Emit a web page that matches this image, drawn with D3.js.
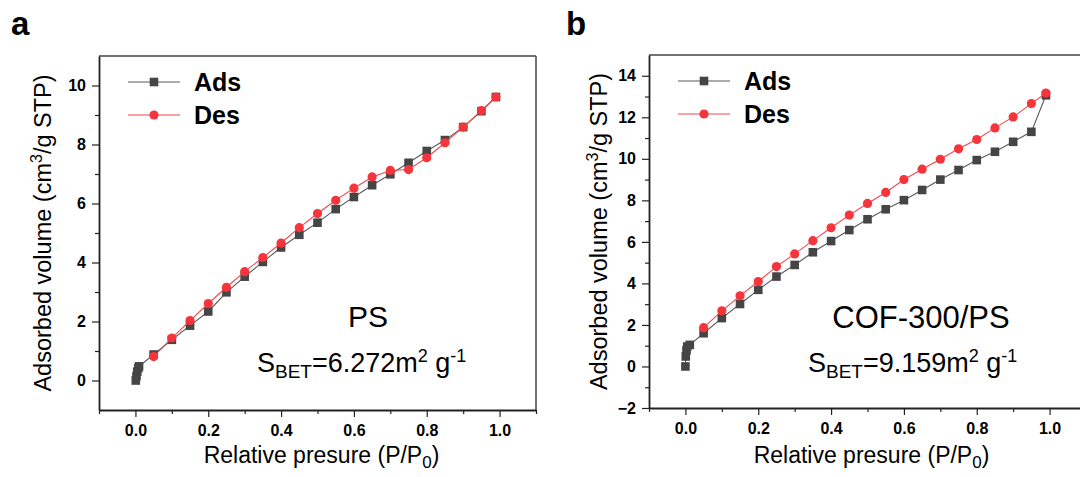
<!DOCTYPE html>
<html><head><meta charset="utf-8">
<script src="https://cdn.jsdelivr.net/npm/d3@7"></script>
<style>body{margin:0;background:#fff}svg{display:block;font-family:"Liberation Sans",Arial,sans-serif}</style>
</head><body><svg id="c" width="1080" height="477"></svg>
<script>
// ---- data ----
const adsPressureA = [0.001,0.003,0.005,0.008,0.01,0.05,0.1,0.15,0.2,0.25,0.3,0.35,0.4,0.45,0.5,0.55,0.6,0.65,0.7,0.75,0.8,0.85,0.9,0.95,0.99];
const adsVolumeA   = [0.0,0.15,0.3,0.42,0.48,0.88,1.38,1.86,2.34,2.99,3.52,4.02,4.51,4.94,5.35,5.81,6.22,6.62,6.99,7.38,7.78,8.15,8.59,9.13,9.61];
const desPressureA = [0.05,0.1,0.15,0.2,0.25,0.3,0.35,0.4,0.45,0.5,0.55,0.6,0.65,0.7,0.75,0.8,0.85,0.9,0.95,0.99];
const desVolumeA   = [0.81,1.44,2.03,2.61,3.16,3.69,4.17,4.66,5.18,5.66,6.11,6.52,6.9,7.12,7.15,7.55,8.06,8.59,9.15,9.61];

const adsPressureB = [0.0,0.001,0.003,0.005,0.012,0.05,0.1,0.15,0.2,0.25,0.3,0.35,0.4,0.45,0.5,0.55,0.6,0.65,0.7,0.75,0.8,0.85,0.9,0.95,0.99];
const adsVolumeB   = [0.0,0.48,0.78,0.96,1.04,1.6,2.33,3.01,3.69,4.33,4.89,5.5,6.04,6.57,7.09,7.57,8.01,8.5,9.0,9.46,9.94,10.34,10.82,11.3,13.06];
const desPressureB = [0.05,0.1,0.15,0.2,0.25,0.3,0.35,0.4,0.45,0.5,0.55,0.6,0.65,0.7,0.75,0.8,0.85,0.9,0.95,0.99];
const desVolumeB   = [1.87,2.68,3.4,4.09,4.81,5.42,6.06,6.68,7.29,7.85,8.38,9.0,9.5,9.98,10.48,10.93,11.49,12.02,12.66,13.17];

const xTickValues = [0.0,0.2,0.4,0.6,0.8,1.0];
const yTickValuesA = [0,2,4,6,8,10];
const yTickValuesB = [-2,0,2,4,6,8,10,12,14];
const seriesNames = ["Ads","Des"];
const panelLetters = ["a","b"];
const sampleNames = ["PS","COF-300/PS"];
const betValues = ["6.272","9.159"];

// ---- drawing ----
const svg = d3.select("#c");
const ADS_FILL = "#454545", ADS_LINE = "#5a5a5a", DES_FILL = "#f5343c", DES_LINE = "#f0474d";

function panel(o){
  const x = d3.scaleLinear().domain([-0.1,1.1]).range([o.left,o.right]);
  const y = d3.scaleLinear().domain(o.ydom).range([o.bottom,o.top]);
  const g = svg.append("g");

  // frame top/right
  g.append("line").attr("x1",o.left).attr("x2",o.right).attr("y1",o.top).attr("y2",o.top).attr("stroke","#444").attr("stroke-width",1.5);
  g.append("line").attr("x1",o.right).attr("x2",o.right).attr("y1",o.top).attr("y2",o.bottom).attr("stroke","#444").attr("stroke-width",1.5);

  // minor ticks
  const xMinor = d3.range(-0.1,1.15,0.1).map(v=>+v.toFixed(2)).filter(v=>!xTickValues.includes(v));
  const yMinor = d3.range(o.ydom[0],o.ydom[1]+0.01,1).filter(v=>!o.yticks.includes(v) && v>o.ydom[0] && v<o.ydom[1]);
  const xa = g.append("g").attr("transform",`translate(0,${o.bottom})`)
     .call(d3.axisBottom(x).tickValues(xMinor).tickSize(4).tickFormat(""));
  xa.selectAll("text").remove();
  const ya = g.append("g").attr("transform",`translate(${o.left},0)`)
     .call(d3.axisLeft(y).tickValues(yMinor).tickSize(4).tickFormat(""));
  [xa,ya].forEach(a=>{a.select(".domain").remove();a.selectAll("line").attr("stroke","#222").attr("stroke-width",1.2);});

  // major axes
  const xA = g.append("g").attr("transform",`translate(0,${o.bottom})`)
     .call(d3.axisBottom(x).tickValues(xTickValues).tickSize(7).tickSizeOuter(0).tickPadding(8).tickFormat(d3.format(".1f")));
  const yA = g.append("g").attr("transform",`translate(${o.left},0)`)
     .call(d3.axisLeft(y).tickValues(o.yticks).tickSize(7).tickSizeOuter(0).tickPadding(6).tickFormat(d3.format("d")));
  [xA,yA].forEach(a=>{
    a.select(".domain").attr("stroke","#222").attr("stroke-width",1.8);
    a.selectAll("line").attr("stroke","#222").attr("stroke-width",1.2);
    a.selectAll("text").attr("font-size",16).attr("font-weight","bold").attr("fill","#000").attr("font-family","Liberation Sans, Arial");
  });

  // series
  const line = d3.line().x(d=>x(d[0])).y(d=>y(d[1]));
  const ads = o.adsX.map((v,i)=>[v,o.adsY[i]]);
  const des = o.desX.map((v,i)=>[v,o.desY[i]]);
  g.append("path").datum(ads).attr("d",line).attr("fill","none").attr("stroke",ADS_LINE).attr("stroke-width",1.1);
  g.selectAll(null).data(ads).enter().append("rect")
    .attr("x",d=>x(d[0])-4.3).attr("y",d=>y(d[1])-4.3).attr("width",8.6).attr("height",8.6).attr("fill",ADS_FILL);
  g.append("path").datum(des).attr("d",line).attr("fill","none").attr("stroke",DES_LINE).attr("stroke-width",1.1);
  g.selectAll(null).data(des).enter().append("circle")
    .attr("cx",d=>x(d[0])).attr("cy",d=>y(d[1])).attr("r",4.6).attr("fill",DES_FILL);

  // legend
  const lx0 = o.left+29, lx1 = o.left+81, lm = o.left+55;
  [[o.top+26, "ads"],[o.top+59,"des"]].forEach(([ly,k],i)=>{
    g.append("line").attr("x1",lx0).attr("x2",lx1).attr("y1",ly).attr("y2",ly)
      .attr("stroke",k==="ads"?ADS_LINE:DES_LINE).attr("stroke-width",1.1);
    if(k==="ads") g.append("rect").attr("x",lm-4.3).attr("y",ly-4.3).attr("width",8.6).attr("height",8.6).attr("fill",ADS_FILL);
    else g.append("circle").attr("cx",lm).attr("cy",ly).attr("r",4.6).attr("fill",DES_FILL);
    g.append("text").attr("x",o.left+95).attr("y",ly+9).attr("font-size",25).attr("font-weight","bold").text(seriesNames[i]);
  });

  // annotations
  g.append("text").attr("x",o.nameX).attr("y",o.nameY).attr("text-anchor","middle").attr("font-size",o.nameSize).text(o.name);
  const t = g.append("text").attr("x",o.betX).attr("y",372).attr("font-size",27);
  t.append("tspan").text("S");
  t.append("tspan").attr("font-size",19).attr("dy",6).text("BET");
  t.append("tspan").attr("dy",-6).text("="+o.bet+"m");
  t.append("tspan").attr("font-size",18).attr("dy",-10).text("2");
  t.append("tspan").attr("dy",10).text(" g");
  t.append("tspan").attr("font-size",18).attr("dy",-10).text("-1");

  // axis titles
  const xt = g.append("text").attr("x",(o.left+o.right)/2+4).attr("y",463).attr("text-anchor","middle").attr("font-size",23);
  xt.append("tspan").text("Relative presure (P/P");
  xt.append("tspan").attr("font-size",17).attr("dy",5).text("0");
  xt.append("tspan").attr("dy",-5).text(")");
  const yt = g.append("text").attr("transform",`translate(${o.ytX},${(o.top+o.bottom)/2}) rotate(-90)`).attr("text-anchor","middle").attr("font-size",23.5);
  yt.append("tspan").text("Adsorbed volume (cm");
  yt.append("tspan").attr("font-size",16).attr("dy",-9).text("3");
  yt.append("tspan").attr("dy",9).text("/g STP)");

  // panel letter
  svg.append("text").attr("x",o.letterX).attr("y",35).attr("font-size",33).attr("font-weight","bold").text(o.letter);
}

panel({left:99,right:536,top:56,bottom:410,ydom:[-1,11],yticks:yTickValuesA,
  adsX:adsPressureA,adsY:adsVolumeA,desX:desPressureA,desY:desVolumeA,
  name:sampleNames[0],nameX:368,nameY:327,nameSize:30,bet:betValues[0],betX:257,ytX:51,letter:panelLetters[0],letterX:11});
panel({left:649,right:1086,top:55,bottom:408,ydom:[-2,15],yticks:yTickValuesB,
  adsX:adsPressureB,adsY:adsVolumeB,desX:desPressureB,desY:desVolumeB,
  name:sampleNames[1],nameX:921,nameY:328,nameSize:31,bet:betValues[1],betX:808,ytX:607,letter:panelLetters[1],letterX:566});
</script></body></html>
